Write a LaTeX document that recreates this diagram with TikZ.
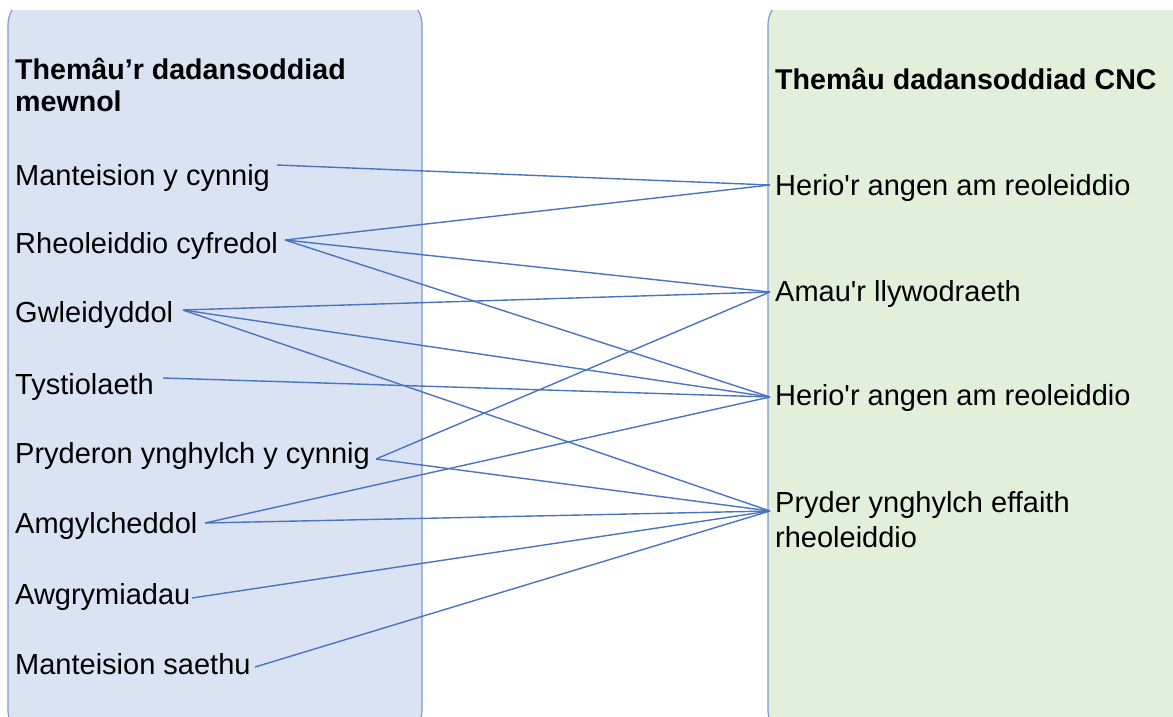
\documentclass[tikz,border=0pt]{standalone}
\usepackage{fontspec}
\newfontfamily\arialf{Liberation Sans}
\definecolor{leftfill}{HTML}{DAE3F3}
\definecolor{rightfill}{HTML}{E2EFDA}
\definecolor{panelborder}{HTML}{7F9ACB}
\definecolor{linkblue}{HTML}{4A74C0}
\begin{document}
\begin{tikzpicture}[x=1pt,y=-1pt,
  lbl/.style={anchor=base west, inner sep=0pt, font=\arialf\fontsize{29}{35}\selectfont, text=black, align=left},
  ttl/.style={anchor=base west, inner sep=0pt, font=\arialf\bfseries\fontsize{28.6}{32}\selectfont, text=black, align=left},
  link/.style={draw=linkblue, line width=1.4pt},
  panel/.style={rounded corners=30pt, line width=1.2pt}]
\useasboundingbox[fill=white] (0,0) rectangle (1173,717);
\begin{scope}
  \clip (0,11) rectangle (1173,717);
  \filldraw[panel, fill=leftfill, draw=panelborder] (8,-5) rectangle (422,740);
  \filldraw[panel, fill=rightfill, draw=panelborder] (768,-5) rectangle (1230,740);
\end{scope}
% titles (multi-line nodes: base = last line)
\node[ttl] (lt) at (15,111) {Themâu’r dadansoddiad\\mewnol};
\node[ttl] (rt) at (775,89) {Themâu dadansoddiad CNC};
% left items
\node[lbl] (l1) at (15,185) {Manteision y cynnig};
\node[lbl] (l2) at (15,253) {Rheoleiddio cyfredol};
\node[lbl] (l3) at (15,322) {Gwleidyddol};
\node[lbl] (l4) at (15,394) {Tystiolaeth};
\node[lbl] (l5) at (15,463) {Pryderon ynghylch y cynnig};
\node[lbl] (l6) at (15,533) {Amgylcheddol};
\node[lbl] (l7) at (15,604) {Awgrymiadau};
\node[lbl] (l8) at (15,674) {Manteision saethu};
% right items
\node[lbl] (r1) at (775,195) {Herio'r angen am reoleiddio};
\node[lbl] (r2) at (775,301) {Amau'r llywodraeth};
\node[lbl] (r3) at (775,405) {Herio'r angen am reoleiddio};
\node[lbl] (r4) at (775,547) {Pryder ynghylch effaith\\rheoleiddio};
% connector ends
\coordinate (a1) at (277,165);
\coordinate (a2) at (285,240);
\coordinate (a3) at (183,310);
\coordinate (a4) at (163,378);
\coordinate (a5) at (376,459);
\coordinate (a6) at (205,523);
\coordinate (a7) at (192,598);
\coordinate (a8) at (255,667);
\coordinate (b1) at (770,185);
\coordinate (b2) at (770,292);
\coordinate (b3) at (770,397);
\coordinate (b4) at (770,511);
% connectors
\draw[link] (a1) -- (b1);
\draw[link] (a2) -- (b1);
\draw[link] (a2) -- (b2);
\draw[link] (a2) -- (b3);
\draw[link] (a3) -- (b2);
\draw[link] (a3) -- (b3);
\draw[link] (a3) -- (b4);
\draw[link] (a4) -- (b3);
\draw[link] (a5) -- (b2);
\draw[link] (a5) -- (b4);
\draw[link] (a6) -- (b3);
\draw[link] (a6) -- (b4);
\draw[link] (a7) -- (b4);
\draw[link] (a8) -- (b4);
\end{tikzpicture}
\end{document}
